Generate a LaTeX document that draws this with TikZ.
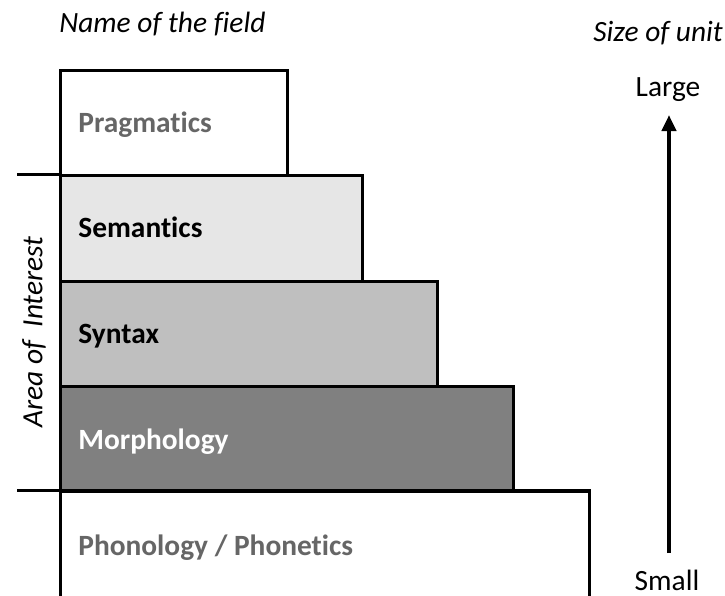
\documentclass[tikz,border=0pt]{standalone}
\usepackage{fontspec}
\setmainfont[Ligatures=NoCommon]{Carlito}
\usetikzlibrary{arrows.meta}
\definecolor{fillsem}{HTML}{E6E6E6}
\definecolor{fillsyn}{HTML}{BFBFBF}
\definecolor{fillmor}{HTML}{808080}
\definecolor{labelgray}{HTML}{666666}
\begin{document}
\begin{tikzpicture}[x=0.5pt,y=-0.5pt,
  field/.style={draw=black,line width=1.5pt,rectangle,anchor=north west,inner sep=0pt},
  fieldname/.style={anchor=base west,inner sep=0pt,font=\fontsize{14.7}{17}\selectfont\bfseries},
  heading/.style={inner sep=0pt,font=\fontsize{14.7}{17}\selectfont\itshape},
  scalelabel/.style={inner sep=0pt,anchor=base,font=\fontsize{14.7}{17}\selectfont},
  rule/.style={draw=black,line width=1.5pt}]
\useasboundingbox (0,0) rectangle (725,596);

% stacked fields, smallest unit at the bottom
\node[field,fill=white,minimum width=113.5pt,minimum height=52.5pt] (prag) at (59,69) {};
\node[field,fill=fillsem,minimum width=151pt,minimum height=53pt] (sem) at (59,174) {};
\node[field,fill=fillsyn,minimum width=188.5pt,minimum height=52.5pt] (syn) at (59,280) {};
\node[field,fill=fillmor,minimum width=226.5pt,minimum height=52.5pt] (mor) at (59,385) {};
\node[field,fill=white,minimum width=264.5pt,minimum height=70pt] (pho) at (59,490) {};

\node[fieldname,text=labelgray] (pragl) at (78,132) {Pragmatics};
\node[fieldname,text=black] (seml) at (78,237) {Semantics};
\node[fieldname,text=black] (synl) at (78,343) {Syntax};
\node[fieldname,text=white] (morl) at (78,449) {Morphology};
\node[fieldname,text=labelgray] (phol) at (78,555) {Phonology / Phonetics};

% limits of the area of interest
\coordinate (topleft) at (17,174);
\coordinate (botleft) at (17,490);
\draw[rule] (topleft) -- (sem.north west);
\draw[rule] (botleft) -- (pho.north east);

\node[heading,rotate=90] (area) at (34,332) {Area of~ Interest};

% headings
\node[heading,anchor=base west] (namehead) at (59,32) {Name of the field};
\node[heading,anchor=base west] (sizehead) at (593,41) {Size of unit};

% size scale
\node[scalelabel] (large) at (668,96) {Large};
\node[scalelabel] (small) at (667,590) {Small};
\coordinate (arrowbot) at (669,553);
\coordinate (arrowtop) at (669,115);
\draw[line width=2pt,-{Triangle[width=7pt,length=8pt]}] (arrowbot) -- (arrowtop);
\end{tikzpicture}
\end{document}
